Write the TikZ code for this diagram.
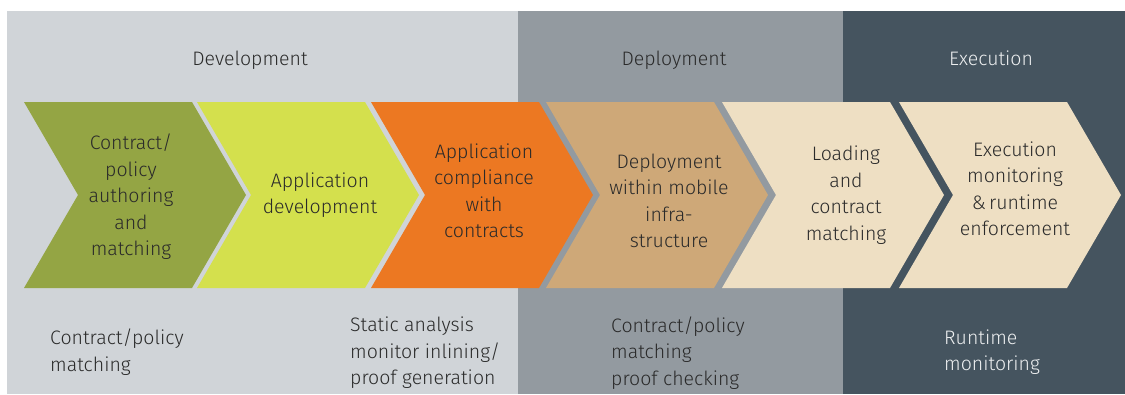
\documentclass[tikz,border=0pt]{standalone}
\usepackage{fontspec}
\setmainfont{Fira Sans Light}
\definecolor{devgrey}{HTML}{D0D4D8}
\definecolor{depgrey}{HTML}{939AA0}
\definecolor{exeslate}{HTML}{45545F}
\definecolor{olive}{HTML}{94A544}
\definecolor{lime}{HTML}{D4E04D}
\definecolor{tangerine}{HTML}{EC7822}
\definecolor{sand}{HTML}{CEA878}
\definecolor{cream}{HTML}{EEDFC3}
\definecolor{ink}{HTML}{2A2A2A}
\definecolor{paper}{HTML}{EEF0F1}
\tikzset{
  phase/.style={text=ink, anchor=base, font=\fontsize{19.5}{26.5}\selectfont},
  stage/.style={text=ink, align=center, font=\fontsize{19.5}{26.5}\selectfont},
  task/.style={text=ink, align=left, anchor=west, inner sep=0pt, font=\fontsize{19.5}{26.5}\selectfont}
}

\begin{document}
\begin{tikzpicture}[x=1pt,y=-1pt]
    \useasboundingbox (0,0) rectangle (1125,394);
    \fill[devgrey] (7,11) rectangle (518,394);
    \fill[depgrey] (518,11) rectangle (843,394);
    \fill[exeslate] (843,11) rectangle (1125,394);
    \foreach \x/\c in {24/olive,197/lime,371/tangerine,546/sand,722/cream,899/cream}
        \fill[\c] (\x,102) -- ++(168,0) -- ++(54,93) -- ++(-54,93) -- ++(-168,0) -- ++(54,-93) -- cycle;
    \node[phase] (dev) at (250,65) {Development};
    \node[phase] (dep) at (674,65) {Deployment};
    \node[phase, text=paper] (exe) at (991,65) {Execution};
    \node[stage] (author) at (131,197) {Contract/\\policy\\authoring\\and\\matching};
    \node[stage] (appdev) at (320,195) {Application\\development};
    \node[stage] (comply) at (484,191) {Application\\compliance\\with\\contracts};
    \node[stage] (deploy) at (669,201) {Deployment\\within mobile\\infra-\\structure};
    \node[stage] (load) at (846,195) {Loading\\and\\contract\\matching};
    \node[stage] (monitor) at (1015,189) {Execution\\monitoring\\\&\,runtime\\enforcement};
    \node[task] (match) at (50,352) {Contract/policy\\matching};
    \node[task] (static) at (350,353) {Static analysis\\monitor inlining/\\proof generation};
    \node[task] (check) at (611,353) {Contract/policy\\matching\\proof checking};
    \node[task, text=paper] (runtime) at (944,352) {Runtime\\monitoring};
\end{tikzpicture}
\end{document}
